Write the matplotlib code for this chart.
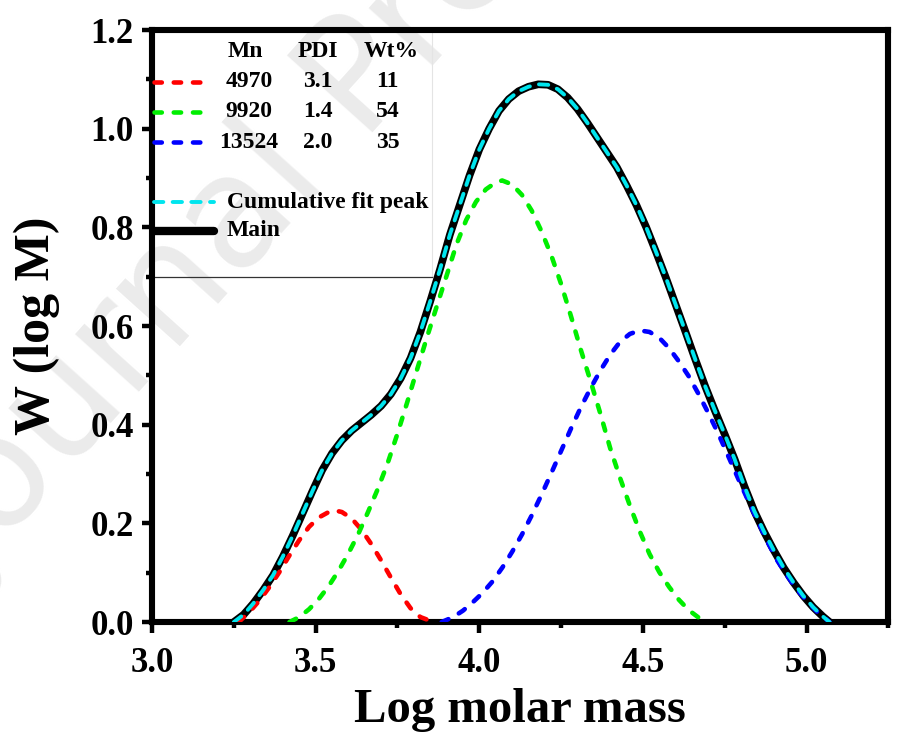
import matplotlib
matplotlib.use("Agg")
import matplotlib.pyplot as plt
from matplotlib.ticker import MultipleLocator, FormatStrFormatter

# ---- data ----
main_x = [3.25, 3.28, 3.31, 3.34, 3.37, 3.40, 3.43, 3.46, 3.49, 3.52, 3.55, 3.58,
          3.61, 3.64, 3.67, 3.70, 3.73, 3.76, 3.79, 3.82, 3.85, 3.88, 3.91, 3.94,
          3.97, 4.00, 4.03, 4.06, 4.09, 4.12, 4.15, 4.18, 4.21, 4.24, 4.27, 4.30,
          4.33, 4.36, 4.39, 4.42, 4.45, 4.48, 4.51, 4.54, 4.57, 4.60, 4.63, 4.66,
          4.69, 4.72, 4.75, 4.78, 4.81, 4.84, 4.87, 4.90, 4.93, 4.96, 4.99, 5.02,
          5.05, 5.07]
main_y = [0.0, 0.015, 0.038, 0.065, 0.095, 0.133, 0.175, 0.220, 0.265, 0.308, 0.342,
          0.368, 0.388, 0.404, 0.420, 0.438, 0.462, 0.494, 0.535, 0.588, 0.650, 0.715,
          0.785, 0.845, 0.905, 0.958, 1.000, 1.036, 1.060, 1.076, 1.085, 1.090, 1.089,
          1.080, 1.063, 1.040, 1.012, 0.982, 0.952, 0.922, 0.885, 0.845, 0.800, 0.750,
          0.698, 0.643, 0.588, 0.532, 0.478, 0.428, 0.380, 0.330, 0.275, 0.225, 0.183,
          0.145, 0.110, 0.080, 0.053, 0.030, 0.011, 0.0]

cum_x = list(main_x)
cum_y = list(main_y)

red_x = [3.265, 3.30, 3.33, 3.36, 3.39, 3.42, 3.45, 3.48, 3.51, 3.54, 3.56, 3.58,
         3.61, 3.64, 3.67, 3.70, 3.73, 3.76, 3.79, 3.82, 3.86]
red_y = [0.0, 0.022, 0.045, 0.072, 0.102, 0.135, 0.166, 0.193, 0.212, 0.223, 0.226,
         0.223, 0.210, 0.187, 0.158, 0.125, 0.090, 0.056, 0.028, 0.010, 0.0]

green_x = [3.42, 3.45, 3.48, 3.51, 3.54, 3.57, 3.60, 3.63, 3.66, 3.69, 3.72, 3.75,
           3.78, 3.81, 3.84, 3.87, 3.90, 3.93, 3.96, 3.99, 4.02, 4.05, 4.07, 4.10,
           4.13, 4.16, 4.19, 4.22, 4.25, 4.28, 4.31, 4.34, 4.37, 4.40, 4.43, 4.46,
           4.49, 4.52, 4.55, 4.58, 4.61, 4.64, 4.67, 4.70]
green_y = [0.0, 0.010, 0.026, 0.047, 0.073, 0.104, 0.139, 0.178, 0.223, 0.270, 0.322,
           0.382, 0.446, 0.512, 0.577, 0.640, 0.702, 0.765, 0.815, 0.852, 0.877, 0.891,
           0.895, 0.887, 0.866, 0.834, 0.792, 0.743, 0.685, 0.620, 0.552, 0.488, 0.422,
           0.352, 0.292, 0.236, 0.184, 0.138, 0.101, 0.071, 0.045, 0.024, 0.009, 0.0]

blue_x = [3.885, 3.92, 3.95, 3.98, 4.01, 4.04, 4.07, 4.10, 4.13, 4.16, 4.19, 4.22,
          4.25, 4.28, 4.31, 4.34, 4.37, 4.40, 4.43, 4.46, 4.49, 4.52, 4.55, 4.58,
          4.61, 4.64, 4.67, 4.70, 4.73, 4.76, 4.79, 4.82, 4.85, 4.88, 4.91, 4.94,
          4.97, 5.00, 5.03, 5.07]
blue_y = [0.0, 0.010, 0.023, 0.040, 0.059, 0.082, 0.110, 0.142, 0.177, 0.216, 0.258,
          0.302, 0.347, 0.392, 0.435, 0.474, 0.510, 0.542, 0.568, 0.584, 0.591, 0.588,
          0.576, 0.555, 0.528, 0.498, 0.462, 0.423, 0.382, 0.337, 0.292, 0.248, 0.205,
          0.163, 0.125, 0.094, 0.066, 0.043, 0.022, 0.0]

table_header = ["Mn", "PDI", "Wt%"]
table_mn = ["4970", "9920", "13524"]
table_pdi = ["3.1", "1.4", "2.0"]
table_wt = ["11", "54", "35"]
comp_colors = ["#ff0000", "#00ee00", "#0000ff"]

x_label = "Log molar mass"
y_label = "W (log M)"

# ---- figure ----
serif = ["Liberation Serif", "DejaVu Serif"]
fig = plt.figure(figsize=(9.02, 7.47), dpi=100)
ax = fig.add_axes([0.1685, 0.1673, 0.8165, 0.7925])
ax.patch.set_alpha(0)

# watermark
fig.text(-0.03, 0.215, "Journal Pre-proof", rotation=48, rotation_mode="anchor",
         ha="left", va="baseline", fontsize=112, color="#ebebeb",
         family="DejaVu Sans", zorder=-5)

def dash_style(lw, on, off):
    return dict(lw=lw, dash_capstyle="round", linestyle=(0, (on, off)))

comp_dash = (3.3, 1.6, 2.6)
cum_dash = (2.8, 2.4, 2.4)

ax.plot(main_x, main_y, color="black", lw=5.5, solid_capstyle="round",
        solid_joinstyle="round", zorder=3)
ax.plot(red_x, red_y, color=comp_colors[0], zorder=4, **dash_style(*comp_dash))
ax.plot(green_x, green_y, color=comp_colors[1], zorder=4, **dash_style(*comp_dash))
ax.plot(blue_x, blue_y, color=comp_colors[2], zorder=4, **dash_style(*comp_dash))
ax.plot(cum_x, cum_y, color="#00e5ee", zorder=5, **dash_style(*cum_dash))

ax.set_xlim(3.0, 5.25)
ax.set_ylim(0.0, 1.2)
ax.xaxis.set_major_locator(MultipleLocator(0.5))
ax.xaxis.set_minor_locator(MultipleLocator(0.25))
ax.yaxis.set_major_locator(MultipleLocator(0.2))
ax.yaxis.set_minor_locator(MultipleLocator(0.1))
ax.xaxis.set_major_formatter(FormatStrFormatter("%.1f"))
ax.yaxis.set_major_formatter(FormatStrFormatter("%.1f"))

for s in ax.spines.values():
    s.set_linewidth(4.4)
ax.tick_params(which="both", direction="out", top=False, right=False, width=3.2)
ax.tick_params(which="major", length=7, pad=6)
ax.tick_params(axis="x", which="major", length=8, pad=10)
ax.tick_params(which="minor", length=4.5)
for lab in ax.get_xticklabels() + ax.get_yticklabels():
    lab.set_family(serif)
    lab.set_fontweight("bold")
    lab.set_fontsize(25)

ax.set_xlabel(x_label, family=serif, fontweight="bold", fontsize=35, labelpad=6)
ax.set_ylabel(y_label, family=serif, fontweight="bold", fontsize=36, labelpad=22)

# ---- legend table ----
lf = dict(family=serif, fontweight="bold", fontsize=17, va="center")
col_mn, col_pdi, col_wt = 3.296, 3.507, 3.72
row_y = [1.095, 1.034, 0.973]
ax.text(3.284, 1.157, table_header[0], ha="center", **lf)
ax.text(col_pdi, 1.157, table_header[1], ha="center", **lf)
ax.text(3.732, 1.157, table_header[2], ha="center", **lf)
for i in range(3):
    ax.plot([3.005, 3.18], [row_y[i], row_y[i]], color=comp_colors[i], zorder=6,
            **dash_style(*comp_dash))
    ax.text(col_mn, row_y[i], table_mn[i], ha="center", **lf)
    ax.text(col_pdi, row_y[i], table_pdi[i], ha="center", **lf)
    ax.text(col_wt, row_y[i], table_wt[i], ha="center", **lf)
ax.plot([3.005, 3.19], [0.851, 0.851], color="#00e5ee", zorder=6,
        **dash_style(*cum_dash))
ax.text(3.228, 0.851, "Cumulative fit peak", ha="left", **lf)
ax.plot([3.01, 3.19], [0.793, 0.793], color="black", lw=6, solid_capstyle="round", zorder=6)
ax.text(3.228, 0.793, "Main", ha="left", **lf)
ax.plot([3.0, 3.855], [0.70, 0.70], color="#333333", lw=0.9, zorder=2)
ax.plot([3.855, 3.855], [0.70, 1.2], color="#e4e4e4", lw=0.8, zorder=1)

fig.savefig("out.png", dpi=100)
